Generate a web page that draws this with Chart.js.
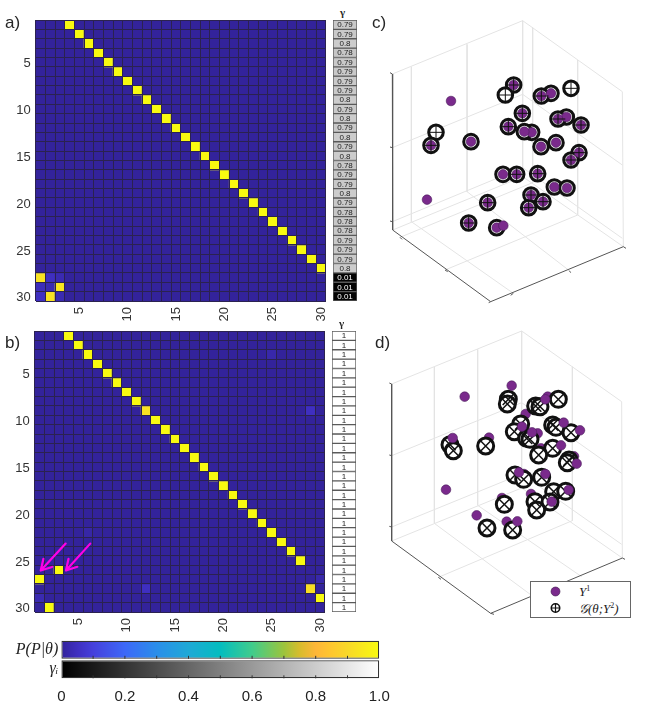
<!DOCTYPE html>
<html><head><meta charset="utf-8">
<script src="https://cdn.jsdelivr.net/npm/chart.js@4/dist/chart.umd.js"></script>
<style>
html,body{margin:0;padding:0;background:#fff;width:663px;height:705px;overflow:hidden;font-family:"Liberation Sans",sans-serif;color:#262626}
canvas{position:absolute;display:block}
.t{position:absolute;line-height:1;white-space:nowrap}
.panel{font-size:17px}
.gam{font:bold 11px "Liberation Serif",serif}
#legend{position:absolute;left:530px;top:581px;width:99px;height:35px;border:1px solid #666;background:#fff;font:italic 13px "Liberation Serif",serif;color:#222}
#legend svg{position:absolute;left:0;top:0}
#legend span{position:absolute;left:48px;line-height:1;white-space:nowrap}
#legend sup{font-size:8px;line-height:0;font-style:normal}
</style></head><body>
<canvas id="hA" width="332" height="306" style="left:0;top:19px"></canvas>
<canvas id="gA" width="26" height="285" style="left:332px;top:18px"></canvas>
<canvas id="hB" width="332" height="306" style="left:0;top:330px"></canvas>
<canvas id="gB" width="26" height="285" style="left:331px;top:329px"></canvas>
<canvas id="cbar" width="400" height="70" style="left:0;top:635px"></canvas>
<canvas id="c3" width="293" height="320" style="left:370px;top:0"></canvas>
<canvas id="d3" width="293" height="310" style="left:370px;top:320px"></canvas>
<div class="t panel" style="left:5px;top:14px">a)</div>
<div class="t panel" style="left:5px;top:334px">b)</div>
<div class="t panel" style="left:372px;top:14px">c)</div>
<div class="t panel" style="left:375px;top:334px">d)</div>
<div class="t gam" style="left:340px;top:6px">γ</div>
<div class="t gam" style="left:339px;top:317px">γ</div>
<div id="legend">
<svg width="99" height="35"><circle cx="24.5" cy="9.5" r="4.5" fill="#7a2a8c" stroke="#3d1a4c" stroke-width=".6"/><circle cx="24.5" cy="26" r="4.2" fill="#fff" stroke="#111" stroke-width="1.6"/><path d="M20 26H29M24.5 21.5V30.5" stroke="#111" stroke-width="1.2"/></svg>
<span style="top:3px">Y<sup>1</sup></span><span style="top:20px">𝒢(θ;Y<sup>2</sup>)</span>
</div>
<script>
// ---------- data ----------
const cellIndex = [1,2,3,4,5,6,7,8,9,10,11,12,13,14,15,16,17,18,19,20,21,22,23,24,25,26,27,28,29,30];
const rowEdges = [0.5,1.5,2.5,3.5,4.5,5.5,6.5,7.5,8.5,9.5,10.5,11.5,12.5,13.5,14.5,15.5,16.5,17.5,18.5,19.5,20.5,21.5,22.5,23.5,24.5,25.5,26.5,27.5,28.5,29.5,30.5];
const tickLabels = [5,10,15,20,25,30];
const peakColA = [4,5,6,7,8,9,10,11,12,13,14,15,16,17,18,19,20,21,22,23,24,25,26,27,28,29,30,1,3,2];
const peakValA = [1,1,1,1,1,1,1,1,1,1,1,1,1,1,1,1,1,1,1,1,1,1,1,1,1,1,1,0.93,0.94,0.93];
const faintA = [[28,2,0.05],[28,3,0.03],[29,1,0.04],[29,2,0.03],[30,1,0.05],[30,3,0.03]];
const gammaA = [0.79,0.79,0.8,0.78,0.79,0.79,0.79,0.79,0.8,0.79,0.8,0.79,0.8,0.79,0.8,0.78,0.79,0.79,0.8,0.79,0.78,0.78,0.78,0.79,0.79,0.79,0.8,0.01,0.01,0.01];
const peakColB = [4,5,6,7,8,9,10,11,12,13,14,15,16,17,18,19,20,21,22,23,24,25,26,27,28,3,1,29,30,2];
const peakValB = [1,1,1,1,1,1,1,1,0.93,1,1,1,1,1,1,1,1,1,1,1,1,1,1,1,1,1,1,0.92,1,1];
const faintB = [[3,25,0.02],[9,29,0.05],[22,6,0.015],[27,30,0.02],[28,12,0.05],[29,1,0.03]];
const gammaB = [1,1,1,1,1,1,1,1,1,1,1,1,1,1,1,1,1,1,1,1,1,1,1,1,1,1,1,1,1,1];
const arrowsB = [[3.7,23.2,1.12,26.07],[6.24,23.2,3.73,26.07]];

const cmapPos = [0,0.05,0.1,0.2,0.3,0.4,0.5,0.6,0.7,0.75,0.8,0.85,0.9,1];
const cmapRGB = [[51,35,155],[63,47,192],[69,64,220],[61,104,248],[42,142,234],[30,169,214],[4,189,191],[64,204,140],[156,196,60],[216,188,44],[254,182,56],[254,199,46],[248,216,40],[248,250,16]];
const barRows = ['P(P|θ)','γᵢ'];
const barTicks = [0.1,0.2,0.3,0.4,0.5,0.6,0.7,0.8,0.9];

// projected positions inside the 3D boxes
const ringsC = [[543,280],[514,288],[431,255],[406,285],[603,265],[457,340],[589,351],[564,357],[633,375],[415,380],[485,397],[463,395],[558,428],[513,440],[627,458],[603,480],[198,397],[183,436],[303,425],[399,523],[440,523],[503,521],[553,561],[591,564],[483,585],[519,605],[476,623],[353,608],[296,669],[380,683]];
const dotsC = [[431,255],[543,280],[514,288],[243,303],[457,340],[589,351],[564,357],[633,375],[415,380],[485,397],[463,395],[558,428],[513,440],[627,458],[603,480],[183,436],[303,425],[399,523],[440,523],[503,521],[553,561],[591,564],[171,599],[483,585],[519,605],[476,623],[353,608],[296,669],[380,683],[400,677]];
const crossC = [[431,255],[406,285],[514,288],[603,265],[457,340],[564,357],[633,375],[415,380],[627,458],[603,480],[198,397],[183,436],[440,523],[503,521],[483,585],[519,605],[476,623],[353,608],[296,669]];
const gridC = [[67,222,458,62],[67,443,458,283],[67,665,458,503],[68,690,458,530],[458,62,757,275],[458,283,757,495],[458,503,757,715],[458,530,760,740],[458,62,458,530],[757,275,760,740],[124,200,124,665],[291,133,291,575],[488,83,488,548],[623,180,623,645],[90,712,488,548],[225,810,623,645],[430,880,124,665],[598,812,291,575]];
const axesC = [[67,222,68,690],[68,690,362,905],[362,905,760,740],[60,218,67,222],[60,441,67,443],[60,663,67,665],[90,712,96,718],[225,810,233,815],[430,880,422,886],[598,812,602,818],[760,740,768,745],[362,905,356,908]];

const ringsD = [[415,238],[412,252],[497,258],[510,260],[565,238],[452,312],[433,335],[548,315],[558,322],[603,338],[470,355],[480,358],[548,385],[506,405],[597,420],[592,428],[240,374],[250,392],[347,378],[435,465],[461,478],[515,472],[551,515],[587,514],[495,545],[540,546],[500,570],[403,553],[351,624],[428,630]];
const dotsBackD = [[533,230],[467,282],[503,340],[513,385],[612,409],[462,462],[552,505],[483,522],[396,534],[410,605],[357,353]];
const dotsFrontD = [[425,197],[284,230],[526,238],[581,308],[630,331],[456,320],[486,337],[573,376],[620,431],[248,354],[447,457],[526,462],[228,509],[596,510],[545,545],[320,586],[442,604]];
const gridD = [[65,192,455,33],[65,407,455,248],[65,621,455,462],[65,663,455,504],[455,33,755,245],[455,248,755,460],[455,462,755,673],[455,504,757,714],[455,33,455,504],[755,245,757,714],[193,140,193,610],[323,88,323,556],[607,140,607,602],[205,772,607,602],[193,610,490,830],[323,556,635,770]];
const axesD = [[65,192,65,663],[65,663,362,880],[362,880,757,714],[58,189,65,192],[58,405,65,407],[58,619,65,621],[205,772,213,778],[757,714,765,718],[362,880,372,883]];

// ---------- helpers ----------
const font = "'Liberation Sans',sans-serif";
const inkColor = '#333';
Chart.defaults.animation = false;
Chart.defaults.font.family = font;
Chart.defaults.events = [];
Chart.defaults.plugins.legend.display = false;
Chart.defaults.plugins.tooltip.enabled = false;

function cmap(v){
  let i = 0;
  while(i < cmapPos.length-2 && v > cmapPos[i+1]) i++;
  const t = Math.min(1,(v-cmapPos[i])/(cmapPos[i+1]-cmapPos[i]));
  const a = cmapRGB[i], b = cmapRGB[i+1];
  return 'rgb('+a.map((c,k)=>Math.round(c+(b[k]-c)*t)).join(',')+')';
}
function noPad(s){s.paddingLeft=s.paddingRight=s.paddingTop=s.paddingBottom=0;}

function heatmap(id, peakCol, peakVal, faint, arrows, xW, yW){
  const sets = cellIndex.map((r,ri)=>{
    const vals = cellIndex.map(c=>{
      if(peakCol[ri]===c) return peakVal[ri];
      const f = faint.find(e=>e[0]===r&&e[1]===c);
      return f?f[2]:0;
    });
    return {data:vals.map(()=>[r-0.5,r+0.5]),backgroundColor:vals.map(cmap),
      barPercentage:1,categoryPercentage:1,grouped:false,borderWidth:0,borderSkipped:false,xAxisID:'x',yAxisID:'y'};
  });
  const arrowPlugin = {id:'arrows',afterDraw(ch){
    const g = ch.ctx, sx = ch.scales.x, sy = ch.scales.y;
    g.save(); g.strokeStyle='#ff00e6'; g.lineWidth=2.2; g.lineCap='round';
    arrows.forEach(a=>{
      const x1=sx.getPixelForValue(a[0]-1),y1=sy.getPixelForValue(a[1]),x2=sx.getPixelForValue(a[2]-1),y2=sy.getPixelForValue(a[3]);
      const th=Math.atan2(y1-y2,x1-x2);
      g.beginPath();g.moveTo(x1,y1);g.lineTo(x2,y2);
      [0.52,-0.52].forEach(d=>{g.moveTo(x2,y2);g.lineTo(x2+12*Math.cos(th+d),y2+12*Math.sin(th+d));});
      g.stroke();
    });
    g.restore();
  }};
  new Chart(document.getElementById(id),{
    type:'bar',data:{labels:cellIndex,datasets:sets},
    plugins:[arrowPlugin],
    options:{responsive:false,maintainAspectRatio:false,
      layout:{autoPadding:false,padding:{top:1,right:332-xW,left:0,bottom:0}},
      scales:{
        x:{type:'category',offset:true,
          grid:{display:true,z:1,color:'#2b2250',lineWidth:1,drawTicks:false,offset:true},
          border:{display:false},
          ticks:{autoSkip:false,maxRotation:90,minRotation:90,padding:6,color:inkColor,font:{size:13},
            callback(v,i){const l=cellIndex[i];return tickLabels.includes(l)?String(l):'';}},
          afterFit(s){s.height=24;noPad(s);}},
        y:{type:'linear',position:'left',min:0.5,max:30.5,reverse:true,
          grid:{display:true,z:1,color:'#2b2250',lineWidth:1,drawTicks:false},
          border:{display:false},ticks:{display:false},
          afterBuildTicks(s){s.ticks=rowEdges.map(v=>({value:v}));},
          afterFit(s){s.width=0;noPad(s);}},
        y2:{type:'linear',position:'left',min:0.5,max:30.5,reverse:true,
          grid:{display:false,drawTicks:false},border:{display:false},
          ticks:{color:inkColor,font:{size:13},padding:5,labelOffset:1.5,callback(v){return String(v);}},
          afterBuildTicks(s){s.ticks=tickLabels.map(v=>({value:v}));},
          afterFit(s){s.width=yW;noPad(s);}}
      }}
  });
}

function gammaStrip(id, values){
  const fills = values.map(v=>{const g=Math.round(v*255);return 'rgb('+g+','+g+','+g+')';});
  const labelPlugin = {id:'cellLabels',afterDatasetsDraw(ch){
    const g=ch.ctx, sx=ch.scales.x, sy=ch.scales.y;
    g.save(); g.font="8px "+font; g.textAlign='center'; g.textBaseline='middle';
    values.forEach((v,i)=>{
      g.fillStyle = v<0.4?'#fff':'#222';
      g.fillText(String(v),sx.getPixelForValue(0),sy.getPixelForValue(cellIndex[i])+0.5);
    });
    g.restore();
  }};
  new Chart(document.getElementById(id),{
    type:'bar',
    data:{labels:['γ'],datasets:cellIndex.map((r,i)=>({data:[[r-0.5,r+0.5]],backgroundColor:fills[i],borderColor:'#5a5a5a',borderWidth:1,borderSkipped:false,barPercentage:1,categoryPercentage:1,grouped:false}))},
    plugins:[labelPlugin],
    options:{responsive:false,maintainAspectRatio:false,layout:{autoPadding:false,padding:{top:2,left:1,right:1,bottom:2}},
      scales:{x:{display:false},y:{display:false,type:'linear',min:0.5,max:30.5,reverse:true}}}
  });
}

function segments(list){
  const pts=[];
  list.forEach(s=>{pts.push({x:s[0],y:s[1]},{x:s[2],y:s[3]},{x:null,y:null});});
  return pts;
}
const asPts = l=>l.map(p=>({x:p[0],y:p[1]}));
const lineSet=(list,color,w,order)=>({data:segments(list),showLine:true,spanGaps:false,borderColor:color,borderWidth:w,pointRadius:0,order});
const dotSet=(list,order)=>({data:asPts(list),pointRadius:4.8,pointBackgroundColor:'#7a2a8c',pointBorderColor:'#4a1f5a',pointBorderWidth:0.6,order});
const ringSet=(list,r,w,order)=>({data:asPts(list),pointRadius:r,pointBackgroundColor:'#fff',pointBorderColor:'#111',pointBorderWidth:w,order});
const crossSet=(list,style,r,w,order)=>({data:asPts(list),pointStyle:style,pointRadius:r,pointBackgroundColor:'transparent',pointBorderColor:'#111',pointBorderWidth:w,order});

function scatter3d(id,maxX,maxY,datasets){
  new Chart(document.getElementById(id),{type:'scatter',data:{datasets},
    options:{responsive:false,maintainAspectRatio:false,clip:false,layout:{autoPadding:false,padding:0},
      scales:{x:{display:false,type:'linear',min:0,max:maxX},y:{display:false,type:'linear',min:0,max:maxY,reverse:true}}}});
}

// ---------- charts ----------
heatmap('hA',peakColA,peakValA,faintA,[],326,35.7);
gammaStrip('gA',gammaA);
heatmap('hB',peakColB,peakValB,faintB,arrowsB,325,34.7);
gammaStrip('gB',gammaB);

scatter3d('c3',879,960,[
  lineSet(axesC,'#555',1,5),lineSet(gridC,'#e4e4e4',1,6),
  ringSet(ringsC,7.3,3,3),dotSet(dotsC,2),crossSet(crossC,'cross',7.3,1,1)]);
scatter3d('d3',879,930,[
  lineSet(axesD,'#555',1,7),lineSet(gridD,'#e4e4e4',1,8),
  dotSet(dotsBackD,6),ringSet(ringsD,8,3,4),crossSet(ringsD,'crossRot',8,1.5,3),dotSet(dotsFrontD,1)]);

// colour bars
new Chart(document.getElementById('cbar'),{
  type:'bar',
  data:{labels:barRows,datasets:[{data:[[0,1],[0,1]],
    barPercentage:0.93,categoryPercentage:1,borderColor:'#333',borderWidth:1.3,borderSkipped:false,
    backgroundColor(c){
      const a=c.chart.chartArea; if(!a) return '#000';
      const g=c.chart.ctx.createLinearGradient(a.left,0,a.right,0);
      if(c.dataIndex===0){ for(let i=0;i<cmapPos.length;i++) g.addColorStop(cmapPos[i],cmap(cmapPos[i])); }
      else { g.addColorStop(0,'#000'); g.addColorStop(1,'#fff'); }
      return g;
    }}]},
  plugins:[{id:'innerTicks',afterDatasetsDraw(ch){
    const g=ch.ctx,sx=ch.scales.x,sy=ch.scales.y,h=ch.chartArea.height/2;
    g.save();g.strokeStyle='#333';g.lineWidth=1;
    barRows.forEach((r,i)=>{const b=sy.getPixelForValue(i)+h*0.465;
      barTicks.forEach(v=>{const x=sx.getPixelForValue(v);g.beginPath();g.moveTo(x,b);g.lineTo(x,b-3);g.stroke();});});
    g.restore();
  }}],
  options:{indexAxis:'y',responsive:false,maintainAspectRatio:false,
    layout:{autoPadding:false,padding:{top:5,right:20.7,left:0,bottom:0}},
    scales:{
      x:{type:'linear',min:0,max:1,grid:{display:false,drawTicks:false},border:{display:false},
        ticks:{stepSize:0.2,padding:9,color:'#222',font:{size:15},maxRotation:0,
          callback(v){return v===0?'0':v===1?'1.0':v.toFixed(1);}},
        afterFit(s){s.height=26;noPad(s);}},
      y:{type:'category',grid:{display:false,drawTicks:false},border:{display:false},
        ticks:{autoSkip:false,color:'#222',padding:3,font:{family:"'Liberation Serif',serif",style:'italic',size:16}},
        afterFit(s){s.width=61.3;noPad(s);}}
    }}
});
</script>
</body></html>
